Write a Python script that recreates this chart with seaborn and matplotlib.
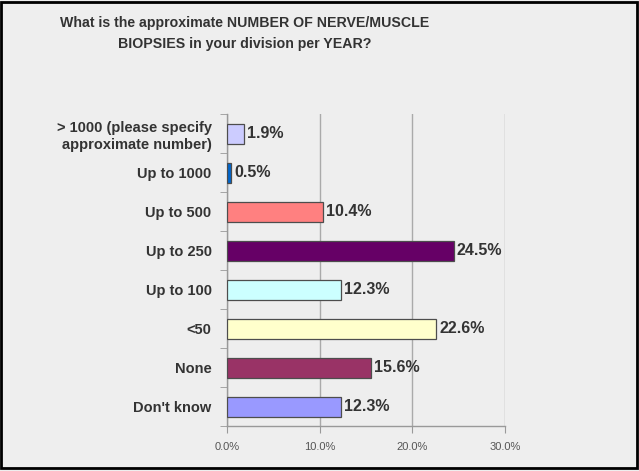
import numpy as np
import pandas as pd
import matplotlib
matplotlib.use("Agg")
import matplotlib.pyplot as plt
import seaborn as sns
from matplotlib.patches import Rectangle
from matplotlib.ticker import FixedLocator

categories = ["> 1000 (please specify\napproximate number)", "Up to 1000", "Up to 500",
              "Up to 250", "Up to 100", "<50", "None", "Don't know"]
values = [1.9, 0.5, 10.4, 24.5, 12.3, 22.6, 15.6, 12.3]
bar_colors = ["#ccccff", "#0066cc", "#ff8080", "#660066", "#ccffff", "#ffffcc", "#993366", "#9999ff"]
xticks = [0, 10, 20, 30]

df = pd.DataFrame({"answer": categories, "pct": values})

plt.rcParams['font.family'] = ['Liberation Sans', 'DejaVu Sans']
bg = "#eeeeee"

fig = plt.figure(figsize=(6.39, 4.71), dpi=100, facecolor=bg)
ax = fig.add_axes([0.355, 0.0945, 0.435, 0.6625])
ax.set_facecolor(bg)

sns.barplot(data=df, x="pct", y="answer", hue="answer", palette=bar_colors,
            order=categories, hue_order=categories, legend=False, width=0.52,
            saturation=1, edgecolor="#4d4d4d", linewidth=0.9, ax=ax, zorder=3)

ax.set_xlim(0, 30)
ax.set_ylim(len(categories) - 0.5, -0.5)
ax.set_xticks(xticks)
ax.set_xticklabels([f"{t:.1f}%" for t in xticks], fontsize=8, color="#555555")
ax.grid(axis="x", color="#aaaaaa", linewidth=1, zorder=0)
ax.grid(axis="y", visible=False)
ax.set_xlabel("")
ax.set_ylabel("")

ax.tick_params(axis="y", length=0, labelsize=10.5, pad=11)
for lbl in ax.get_yticklabels():
    lbl.set_fontweight("bold")
    lbl.set_color("#333333")
ax.yaxis.set_minor_locator(FixedLocator(np.arange(-0.5, len(categories), 1)))
ax.tick_params(axis="y", which="minor", length=5, color="#999999")
ax.tick_params(axis="x", length=5, color="#999999", pad=6)

for s in ["top", "right"]:
    ax.spines[s].set_visible(False)
for s in ["left", "bottom"]:
    ax.spines[s].set_color("#999999")
    ax.spines[s].set_linewidth(1)

for i, v in enumerate(values):
    ax.text(v + 0.3, i, f"{v:.1f}%", va="center", ha="left", fontsize=11.5,
            fontweight="bold", color="#333333")

fig.text(0.383, 0.928, "What is the approximate NUMBER OF NERVE/MUSCLE\nBIOPSIES in your division per YEAR?",
         ha="center", va="center", fontsize=10.2, fontweight="bold", color="#333333",
         linespacing=1.65)

fig.patches.append(Rectangle((0.002, 0.006), 0.995, 0.99, transform=fig.transFigure,
                             fill=False, edgecolor="black", linewidth=2))

fig.savefig("out.png", dpi=100, facecolor=bg)
